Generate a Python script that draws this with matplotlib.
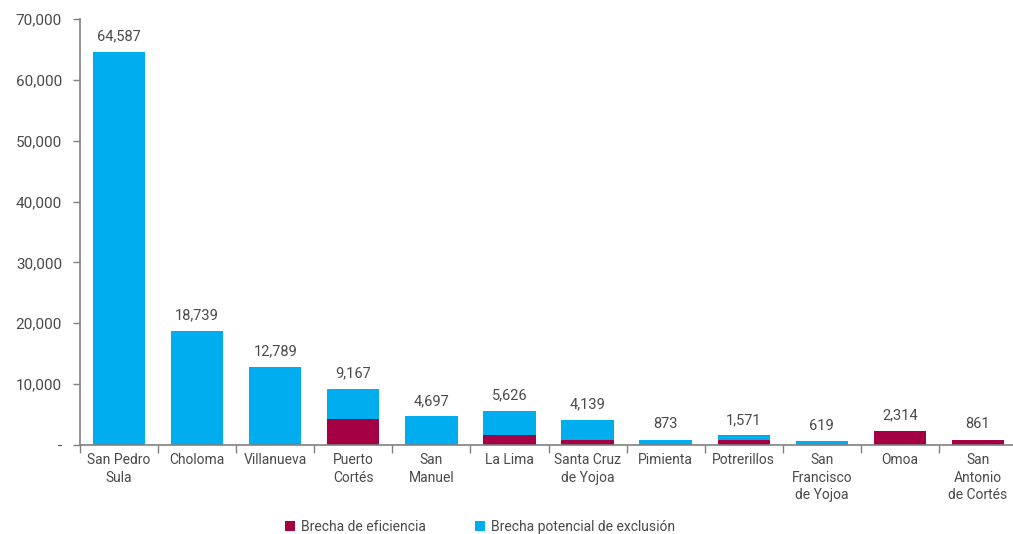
import matplotlib
matplotlib.use("Agg")
import matplotlib.pyplot as plt
import numpy as np

categories = ["San Pedro\nSula", "Choloma", "Villanueva", "Puerto\nCortés", "San\nManuel",
              "La Lima", "Santa Cruz\nde Yojoa", "Pimienta", "Potrerillos",
              "San\nFrancisco\nde Yojoa", "Omoa", "San\nAntonio\nde Cortés"]
totals = [64587, 18739, 12789, 9167, 4697, 5626, 4139, 873, 1571, 619, 2314, 861]
eficiencia = [0, 0, 0, 4300, 0, 1650, 900, 0, 800, 0, 2314, 861]
exclusion = [t - e for t, e in zip(totals, eficiencia)]
yticks = [0, 10000, 20000, 30000, 40000, 50000, 60000, 70000]
ytick_labels = ["-", "10,000", "20,000", "30,000", "40,000", "50,000", "60,000", "70,000"]

C_EF = "#A50044"
C_EX = "#00ADEF"
TXT = "#4a4a4a"
AX = "#808080"

plt.rcParams['font.family'] = ['Roboto', 'DejaVu Sans']

W, H = 1013, 534
fig = plt.figure(figsize=(W/100, H/100), dpi=100)
ax = fig.add_axes([80/W, 1-445/H, 937/W, (445-19)/H])

x = np.arange(len(categories))
bw = 0.67
ax.bar(x, eficiencia, bw, color=C_EF, label="Brecha de eficiencia")
ax.bar(x, exclusion, bw, bottom=eficiencia, color=C_EX, label="Brecha potencial de exclusión")

for xi, t in zip(x, totals):
    ax.text(xi, t + 1400, f"{t:,}", ha="center", va="bottom", fontsize=10.5, color=TXT)

ax.set_xlim(-0.5, len(categories) - 0.5)
ax.set_ylim(0, 70000)
ax.set_yticks(yticks)
ax.set_yticklabels(ytick_labels, fontsize=11, color=TXT)

ax.set_xticks(x)
ax.set_xticklabels(categories, fontsize=10, color=TXT, linespacing=1.3)
ax.tick_params(axis="x", length=0, pad=6)
ax.set_xticks(np.arange(-0.5, len(categories)), minor=True)
ax.tick_params(axis="x", which="minor", length=6, color=AX, width=1)
ax.tick_params(axis="y", length=5, color=AX, width=1, pad=8)

for s in ["top", "right"]:
    ax.spines[s].set_visible(False)
for s in ["left", "bottom"]:
    ax.spines[s].set_color(AX)
    ax.spines[s].set_linewidth(1.2)

fig.legend(loc="center", bbox_to_anchor=(480/W, 1-527/H), ncol=2, frameon=False,
           fontsize=10, handlelength=0.7, handleheight=0.7, handletextpad=0.4,
           columnspacing=3.6, labelcolor=TXT, borderaxespad=0)

fig.savefig("out.png", dpi=100)
